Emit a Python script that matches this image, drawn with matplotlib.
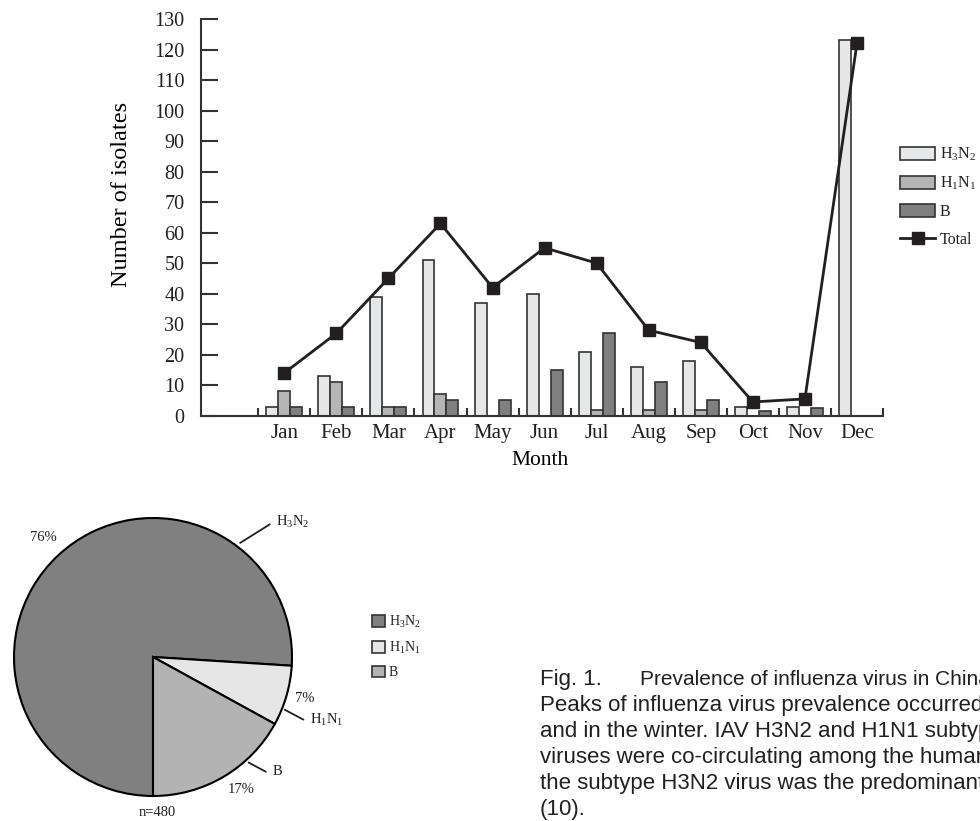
import numpy as np
import matplotlib
matplotlib.use("Agg")
from matplotlib import pyplot as plt
from matplotlib.patches import Patch

# monthly isolates per subtype
months = ["Jan", "Feb", "Mar", "Apr", "May", "Jun", "Jul", "Aug", "Sep", "Oct", "Nov", "Dec"]
h3n2 = [3, 13, 39, 51, 37, 40, 21, 16, 18, 3, 3, 123]
h1n1 = [8, 11, 3, 7, 0, 0, 2, 2, 2, 0, 0, 0]
type_b = [3, 3, 3, 5, 5, 15, 27, 11, 5, 1.5, 2.5, 0]
total = [14, 27, 45, 63, 42, 55, 50, 28, 24, 4.5, 5.5, 122]

# pie chart shares (percent), n=480
pie_labels = ["H$_3$N$_2$", "H$_1$N$_1$", "B"]
pie_share = [76, 7, 17]
n_total = 480

# caption lines (cut at the right edge, as in the source figure)
caption = [
    "Peaks of influenza virus prevalence occurred",
    "and in the winter. IAV H3N2 and H1N1 subtypes",
    "viruses were co-circulating among the human",
    "the subtype H3N2 virus was the predominant",
    "(10).",
]

INK = "#231f20"
EDGE = "#333333"


def main():
    plt.rcParams["font.family"] = ["Liberation Serif", "DejaVu Serif"]
    plt.rcParams["mathtext.fontset"] = "custom"
    plt.rcParams["mathtext.rm"] = "Liberation Serif"
    plt.rcParams["mathtext.it"] = "Liberation Serif"
    plt.rcParams["text.color"] = INK

    fig = plt.figure(figsize=(9.8, 8.21), dpi=100)
    W, H = 980.0, 821.0

    # ---- bar chart ----
    ax = fig.add_axes([201 / W, 1 - 415.7 / H, 682 / W, 396.7 / H])
    x = np.arange(len(months))
    w = 0.23
    b1 = ax.bar(x - w, h3n2, w, color="#e6e7e8", edgecolor=EDGE, linewidth=1.2, zorder=2)
    b2 = ax.bar(x, h1n1, w, color="#b5b5b6", edgecolor=EDGE, linewidth=1.2, zorder=2)
    b3 = ax.bar(x + w, type_b, w, color="#808080", edgecolor=EDGE, linewidth=1.2, zorder=2)
    ln, = ax.plot(x, total, color=INK, linewidth=2, marker="s", markersize=9, zorder=3)

    ax.set_xlim(-1.6, 11.5)
    ax.set_ylim(0, 130)
    ax.set_yticks(np.arange(0, 131, 10))
    ax.set_xticks(x)
    ax.set_xticklabels(months)
    ax.set_xticks(np.arange(-0.5, 12, 1), minor=True)

    for side in ["top", "right"]:
        ax.spines[side].set_visible(False)
    for side in ["left", "bottom"]:
        ax.spines[side].set_linewidth(1.5)
        ax.spines[side].set_color(EDGE)

    ax.tick_params(axis="y", direction="in", length=12, width=1.5, color=EDGE,
                   labelsize=14.5, pad=12, labelcolor=INK)
    ax.tick_params(axis="x", which="major", length=0, labelsize=15, pad=6, labelcolor=INK)
    ax.tick_params(axis="x", which="minor", direction="in", length=6, width=1.5, color=EDGE)

    ax.set_ylabel("Number of isolates", fontsize=17.5)
    ax.yaxis.set_label_coords(-0.101, 0.558)
    ax.set_xlabel("Month", fontsize=15.5)
    ax.xaxis.set_label_coords(0.497, -0.088)
    ax.xaxis.label.set_verticalalignment("top")

    ax.legend([b1, b2, b3, ln], ["H$_3$N$_2$", "H$_1$N$_1$", "B", "Total"],
              loc="upper left", bbox_to_anchor=(900 / W, 1 - 146 / H),
              bbox_transform=fig.transFigure, frameon=False, fontsize=11.5,
              borderpad=0, borderaxespad=0, handlelength=2.2, handleheight=0.9,
              handletextpad=0.3, labelspacing=0.72)

    # ---- pie chart ----
    # axes spans pixels x 0..500, y 480..821, pie centre (153, 657), radius 139 px
    cx, cy, r = 153.0, 657.0, 139.0
    ax2 = fig.add_axes([0, 0, 500 / W, (821 - 480) / H])
    colors = ["#808080", "#e6e6e6", "#b3b3b3"]
    ax2.pie(pie_share, colors=colors, startangle=-90, counterclock=False,
            wedgeprops=dict(edgecolor="black", linewidth=1.5))
    ax2.set_xlim(-cx / r, (500 - cx) / r)
    ax2.set_ylim((cy - 821) / r, (cy - 480) / r)
    ax2.set_aspect("equal")
    ax2.axis("off")

    # percent labels
    pct_pos = [(-0.79, 0.86), (1.094, -0.30), (0.633, -0.95)]
    for share, (px, py) in zip(pie_share, pct_pos):
        ax2.text(px, py, "{}%".format(share), fontsize=10.5, ha="center", va="center")
    ax2.text(0.03, -1.12, "n={}".format(n_total), fontsize=10.5, ha="center", va="center")

    # name labels with leader lines
    lead_start = [(0.61, 0.81), (0.93, -0.37), (0.67, -0.75)]
    lead_end = [(0.857, 0.965), (1.10, -0.46), (0.83, -0.835)]
    for name, p0, p1 in zip(pie_labels, lead_start, lead_end):
        ax2.annotate("", xy=p0, xytext=p1,
                     arrowprops=dict(arrowstyle="-", color=INK, linewidth=1.3))
        ax2.text(p1[0] + 0.03, p1[1] + 0.01, name, fontsize=10.5, ha="left", va="center")

    handles = [Patch(facecolor=c, edgecolor=EDGE, linewidth=1.2) for c in colors]
    ax2.legend(handles, pie_labels, loc="upper left", bbox_to_anchor=(372 / W, 1 - 614 / H),
               bbox_transform=fig.transFigure, frameon=False, fontsize=10,
               borderpad=0, borderaxespad=0, handlelength=0.95, handleheight=0.9,
               handletextpad=0.25, labelspacing=0.7)

    # ---- caption ----
    cap_font = ["Liberation Sans", "DejaVu Sans"]
    fig.text(540 / W, 1 - 685 / H, "Fig. 1.", family=cap_font, fontsize=16, va="baseline", color=INK)
    fig.text(640 / W, 1 - 685 / H, "Prevalence of influenza virus in China", family=cap_font,
             fontsize=15, va="baseline", color=INK)
    for i, line in enumerate(caption):
        fig.text(540 / W, 1 - (711 + 26 * i) / H, line, family=cap_font, fontsize=16,
                 va="baseline", color=INK)

    fig.savefig("out.png", dpi=100)


if __name__ == "__main__":
    main()
